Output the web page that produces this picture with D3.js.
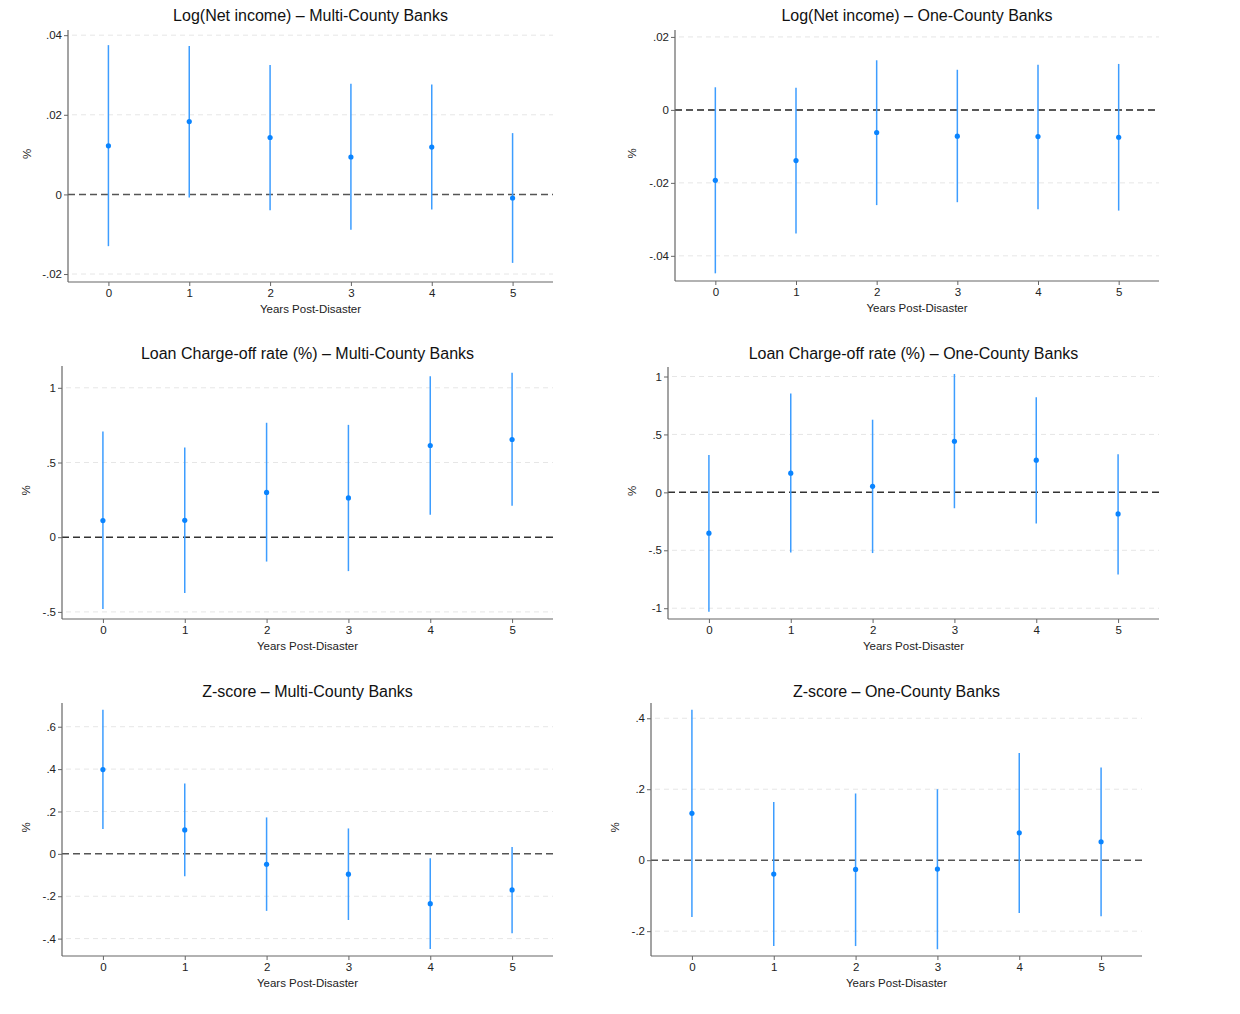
<!DOCTYPE html>
<html>
  <head>
    <meta charset="utf-8" />
    <style>
      body {
        margin: 0;
        background: #fff;
      }
      svg {
        font-family: "Liberation Sans", Arial, sans-serif;
      }
      .title {
        font-size: 16px;
        fill: #111;
      }
      .tick-label {
        font-size: 11.5px;
        fill: #222;
      }
      .axis-title {
        font-size: 11.5px;
        fill: #222;
      }
    </style>
  </head>

  <body>
    <svg width="1240" height="1014"></svg>

    <script src="https://d3js.org/d3.v7.min.js"></script>

    <script>
      // years after the disaster (x axis)
      let years = [0, 1, 2, 3, 4, 5];

      let titles = [
        "Log(Net income) \u2013 Multi-County Banks",
        "Log(Net income) \u2013 One-County Banks",
        "Loan Charge-off rate (%) \u2013 Multi-County Banks",
        "Loan Charge-off rate (%) \u2013 One-County Banks",
        "Z-score \u2013 Multi-County Banks",
        "Z-score \u2013 One-County Banks",
      ];

      // point estimates and 95% CI bounds
      let netMultiCoef = [0.0122, 0.0183, 0.0143, 0.0094, 0.0119, -0.0009];
      let netMultiLo = [-0.013, -0.0008, -0.004, -0.0089, -0.0038, -0.0172];
      let netMultiHi = [0.0375, 0.0373, 0.0325, 0.0278, 0.0276, 0.0154];

      let netOneCoef = [-0.0193, -0.0139, -0.0062, -0.0072, -0.0073, -0.0075];
      let netOneLo = [-0.0448, -0.0339, -0.0261, -0.0253, -0.0272, -0.0276];
      let netOneHi = [0.0062, 0.0061, 0.0136, 0.011, 0.0124, 0.0126];

      let chargeMultiCoef = [0.111, 0.113, 0.3, 0.263, 0.614, 0.654];
      let chargeMultiLo = [-0.481, -0.374, -0.163, -0.227, 0.151, 0.211];
      let chargeMultiHi = [0.708, 0.601, 0.766, 0.752, 1.077, 1.1];

      let chargeOneCoef = [-0.352, 0.166, 0.052, 0.441, 0.278, -0.186];
      let chargeOneLo = [-1.03, -0.518, -0.524, -0.137, -0.269, -0.71];
      let chargeOneHi = [0.323, 0.853, 0.627, 1.022, 0.821, 0.329];

      let zMultiCoef = [0.398, 0.113, -0.049, -0.096, -0.235, -0.17];
      let zMultiLo = [0.117, -0.106, -0.269, -0.312, -0.449, -0.375];
      let zMultiHi = [0.68, 0.332, 0.172, 0.12, -0.021, 0.033];

      let zOneCoef = [0.132, -0.039, -0.026, -0.025, 0.077, 0.052];
      let zOneLo = [-0.16, -0.242, -0.242, -0.251, -0.149, -0.158];
      let zOneHi = [0.424, 0.164, 0.188, 0.2, 0.302, 0.261];

      // y tick values per panel
      let yTicks = [
        [-0.02, 0, 0.02, 0.04],
        [-0.04, -0.02, 0, 0.02],
        [-0.5, 0, 0.5, 1],
        [-1, -0.5, 0, 0.5, 1],
        [-0.4, -0.2, 0, 0.2, 0.4, 0.6],
        [-0.2, 0, 0.2, 0.4],
      ];

      // y ranges shown in each panel
      let yDomains = [
        [-0.022, 0.0413],
        [-0.0469, 0.0219],
        [-0.5475, 1.146],
        [-1.093, 1.082],
        [-0.482, 0.712],
        [-0.27, 0.443],
      ];

      let coefs = [netMultiCoef, netOneCoef, chargeMultiCoef, chargeOneCoef, zMultiCoef, zOneCoef];
      let lows = [netMultiLo, netOneLo, chargeMultiLo, chargeOneLo, zMultiLo, zOneLo];
      let highs = [netMultiHi, netOneHi, chargeMultiHi, chargeOneHi, zMultiHi, zOneHi];

      // plot boxes (pixels) and a few per-panel styles
      let layout = [
        { left: 68, right: 553, top: 30, bottom: 282, titleY: 21, pctX: 27, zero: "#555" },
        { left: 675, right: 1159, top: 30, bottom: 281, titleY: 21, pctX: 632, zero: "#222" },
        { left: 62, right: 553, top: 366, bottom: 619, titleY: 359, pctX: 26, zero: "#333" },
        { left: 668, right: 1159, top: 367, bottom: 619, titleY: 359, pctX: 632, zero: "#333" },
        { left: 62, right: 553, top: 703, bottom: 956, titleY: 697, pctX: 26, zero: "#555" },
        { left: 651, right: 1142, top: 703, bottom: 956, titleY: 697, pctX: 615, zero: "#555" },
      ];

      let pointColor = "#0a84ff";
      let barColor = "#3d9dff";
      let axisColor = "#666";

      // stata style labels: ".02", "-.5"
      let fmt = (v) => String(+v.toFixed(4)).replace(/^(-?)0\./, "$1.");

      let svg = d3.select("svg");

      layout.forEach((box, i) => {
        let g = svg.append("g").attr("class", "panel");

        let x = d3.scaleLinear().domain([-0.5, 5.5]).range([box.left, box.right]);
        let y = d3.scaleLinear().domain(yDomains[i]).range([box.bottom, box.top]);

        // light dashed grid
        g.selectAll(".grid")
          .data(yTicks[i].filter((t) => t != 0))
          .join("line")
          .attr("class", "grid")
          .attr("x1", box.left + 4)
          .attr("x2", box.right)
          .attr("y1", (d) => y(d))
          .attr("y2", (d) => y(d))
          .attr("stroke", "#e6e6e6")
          .attr("stroke-width", 1)
          .attr("stroke-dasharray", "5,4");

        // zero reference line
        g.append("line")
          .attr("x1", box.left)
          .attr("x2", box.right)
          .attr("y1", y(0))
          .attr("y2", y(0))
          .attr("stroke", box.zero)
          .attr("stroke-width", 1.5)
          .attr("stroke-dasharray", "7,4");

        // axes
        let yAxis = d3
          .axisLeft(y)
          .tickValues(yTicks[i])
          .tickSize(4)
          .tickPadding(2)
          .tickFormat(fmt);

        g.append("g")
          .attr("transform", `translate(${box.left},0)`)
          .call(yAxis)
          .call((a) => a.select(".domain").attr("d", `M0,${box.top}V${box.bottom}`));

        let xAxis = d3
          .axisBottom(x)
          .tickValues(years)
          .tickSize(4)
          .tickPadding(3)
          .tickFormat(d3.format("d"));

        g.append("g")
          .attr("transform", `translate(0,${box.bottom})`)
          .call(xAxis)
          .call((a) => a.select(".domain").attr("d", `M${box.left},0H${box.right}`));

        g.selectAll(".domain").attr("stroke", axisColor).attr("stroke-width", 1.2);
        g.selectAll(".tick line").attr("stroke", axisColor);
        g.selectAll(".tick text")
          .attr("class", "tick-label")
          .attr("font-family", null)
          .attr("font-size", null);

        // confidence intervals
        g.selectAll(".ci")
          .data(years)
          .join("line")
          .attr("class", "ci")
          .attr("x1", (d) => x(d))
          .attr("x2", (d) => x(d))
          .attr("y1", (d, j) => y(lows[i][j]))
          .attr("y2", (d, j) => y(highs[i][j]))
          .attr("stroke", barColor)
          .attr("stroke-width", 1.5);

        // point estimates
        g.selectAll(".pt")
          .data(years)
          .join("circle")
          .attr("class", "pt")
          .attr("cx", (d) => x(d))
          .attr("cy", (d, j) => y(coefs[i][j]))
          .attr("r", 2.6)
          .attr("fill", pointColor);

        // titles and labels
        g.append("text")
          .attr("class", "title")
          .attr("x", (box.left + box.right) / 2)
          .attr("y", box.titleY)
          .attr("text-anchor", "middle")
          .text(titles[i]);

        g.append("text")
          .attr("class", "axis-title")
          .attr("x", (box.left + box.right) / 2)
          .attr("y", box.bottom + 31)
          .attr("text-anchor", "middle")
          .text("Years Post-Disaster");

        let midY = (box.top + box.bottom) / 2;
        g.append("text")
          .attr("class", "axis-title")
          .attr("transform", `translate(${box.pctX + 4},${midY - 2}) rotate(-90)`)
          .attr("text-anchor", "middle")
          .text("%");
      });
    </script>
  </body>
</html>
